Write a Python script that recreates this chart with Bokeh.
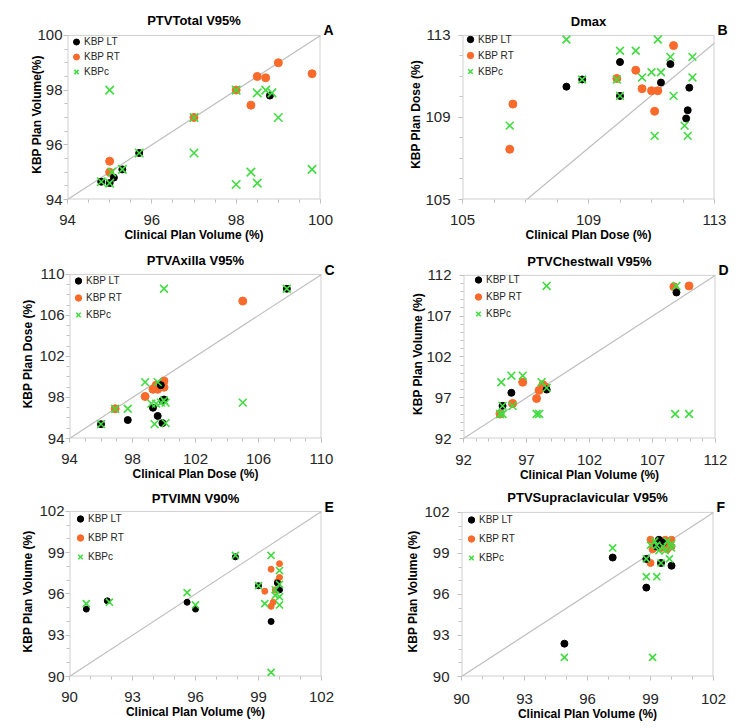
from bokeh.plotting import figure
from bokeh.models import Range1d, FixedTicker, Legend, LegendItem, LinearAxis
from bokeh.layouts import column, row
from bokeh.embed import file_html
from bokeh.resources import INLINE

# ---------------- data ----------------
# Panel A: PTVTotal V95%
A_lt_x = [94.8, 95.0, 95.1, 95.3, 95.7, 98.8]
A_lt_y = [94.65, 94.6, 94.8, 95.1, 95.7, 97.8]
A_rt_x = [95.0, 95.0, 97.0, 98.0, 98.35, 98.5, 98.7, 99.0, 99.8]
A_rt_y = [95.4, 95.0, 97.0, 98.0, 97.45, 98.5, 98.45, 99.0, 98.6]
A_c_x = [95.0, 94.8, 95.0, 95.05, 95.3, 95.7, 97.0, 97.0, 98.0, 98.0, 98.35, 98.5, 98.5, 98.7, 98.85, 99.0, 99.8]
A_c_y = [98.0, 94.65, 94.6, 95.0, 95.1, 95.7, 97.0, 95.7, 98.0, 94.55, 95.0, 94.6, 97.9, 98.0, 97.9, 97.0, 95.1]

# Panel B: Dmax
B_lt_x = [108.3, 108.8, 110.0, 110.0, 111.3, 111.6, 112.1, 112.15, 112.2]
B_lt_y = [110.5, 110.85, 111.7, 110.05, 110.7, 111.6, 108.95, 109.35, 110.45]
B_rt_x = [106.6, 106.5, 109.9, 110.5, 110.7, 111.0, 111.2, 111.1, 111.7]
B_rt_y = [109.65, 107.45, 110.9, 111.3, 110.4, 110.3, 110.3, 109.3, 112.5]
B_c_x = [108.3, 106.5, 108.8, 109.9, 110.0, 110.0, 110.5, 110.7, 111.0, 111.3, 111.2, 111.6, 111.7, 111.1, 112.05, 112.15, 112.3, 112.3]
B_c_y = [112.8, 108.6, 110.85, 110.85, 112.25, 110.05, 112.25, 110.95, 111.2, 111.2, 112.8, 111.95, 110.05, 108.1, 108.6, 108.1, 111.95, 110.95]
B_ref_x = [107.04, 113.0]
B_ref_y = [105.0, 112.63]

# Panel C: PTVAxilla V95%
C_lt_x = [96.0, 97.7, 99.3, 99.6, 99.8, 99.9, 100.0, 99.9, 107.8]
C_lt_y = [95.4, 95.8, 97.0, 96.2, 99.2, 97.7, 97.8, 95.5, 108.6]
C_rt_x = [96.9, 98.8, 99.3, 99.5, 99.6, 99.8, 100.0, 100.0, 105.0]
C_rt_y = [96.9, 98.1, 98.8, 99.2, 98.8, 99.1, 99.6, 99.0, 107.4]
C_c_x = [96.0, 96.9, 97.7, 98.8, 99.6, 99.2, 99.5, 99.8, 100.0, 100.1, 99.4, 100.1, 100.0, 105.0, 107.8]
C_c_y = [95.4, 96.9, 96.9, 99.5, 99.5, 97.4, 97.4, 97.5, 97.7, 97.5, 95.4, 95.5, 108.6, 97.5, 108.6]

# Panel D: PTVChestwall V95%
D_lt_x = [95.1, 95.8, 98.6, 108.9]
D_lt_y = [96.0, 97.6, 98.0, 109.9]
D_rt_x = [94.9, 95.9, 96.7, 97.8, 98.0, 98.3, 98.5, 108.7, 109.9]
D_rt_y = [95.0, 96.3, 98.9, 96.9, 97.9, 98.6, 98.3, 110.6, 110.7]
D_c_x = [95.0, 95.8, 96.7, 94.9, 95.1, 95.1, 95.9, 97.8, 98.0, 98.2, 98.6, 98.6, 108.9, 108.8, 109.9]
D_c_y = [98.9, 99.7, 99.7, 95.0, 95.0, 96.0, 96.0, 95.0, 95.0, 98.9, 98.2, 110.7, 110.7, 95.0, 95.0]

# Panel E: PTVIMN V90%
E_lt_x = [90.8, 91.8, 95.6, 96.0, 97.9, 99.0, 99.6, 99.9, 100.0]
E_lt_y = [94.9, 95.5, 95.4, 94.9, 98.7, 96.6, 94.0, 96.8, 96.3]
E_rt_x = [99.3, 99.6, 99.6, 99.7, 99.8, 99.9, 100.0, 100.0]
E_rt_y = [96.2, 95.1, 97.8, 95.4, 96.3, 96.9, 98.2, 97.2]
E_c_x = [90.8, 91.9, 95.6, 96.0, 97.9, 99.0, 99.6, 99.3, 99.6, 99.8, 100.0, 99.8, 100.0, 100.0, 100.0]
E_c_y = [95.3, 95.4, 96.1, 95.2, 98.8, 96.6, 98.8, 95.3, 90.3, 96.3, 96.7, 95.9, 95.8, 97.7, 95.2]

# Panel F: PTVSupraclavicular V95%
F_lt_x = [94.9, 97.2, 98.8, 98.8, 99.5, 100.0, 99.4, 99.3, 99.6]
F_lt_y = [92.4, 98.7, 96.5, 98.6, 98.3, 98.1, 100.0, 99.5, 99.8]
F_rt_x = [99.0, 99.2, 99.4, 99.5, 99.7, 99.9, 100.0, 100.0, 99.1, 99.0, 99.6, 99.8]
F_rt_y = [100.0, 99.6, 99.9, 99.4, 100.0, 99.7, 100.0, 99.5, 99.3, 98.3, 99.6, 99.3]
F_c_x = [94.9, 97.2, 99.1, 98.8, 99.3, 98.8, 99.5, 99.9, 99.0, 99.2, 99.4, 99.6, 99.8, 100.0, 100.0, 99.3, 99.7]
F_c_y = [91.4, 99.4, 91.4, 97.3, 97.3, 98.6, 98.3, 98.6, 99.6, 99.9, 99.2, 99.5, 99.9, 99.7, 99.4, 99.6, 99.2]

# axis ticks
A_ticks = [94, 96, 98, 100]
B_ticks = [105, 109, 113]
C_ticks = [94, 98, 102, 106, 110]
D_ticks = [92, 97, 102, 107, 112]
E_ticks = [90, 93, 96, 99, 102]
F_ticks = [90, 93, 96, 99, 102]

FONT = "Liberation Sans"
ORANGE = "#fa6a2a"
GREEN = "#40dc40"
TXT = "#262626"
BOX = "#d0d0d0"


def make_panel(title, letter, xlabel, ylabel, ticks, minor_step,
               lt, rt, kc, ref, h, borders, ext, leg, sizes, ylab_side, xstand, tstand):
    left, right, top, bottom = borders
    lo, hi = ticks[0], ticks[-1]
    vis_h = h - top - bottom
    # the frame reaches `ext` px above the drawn box, leaving room for the panel letter
    y_hi = hi + (hi - lo) * ext / vis_h
    p = figure(width=375, height=h, x_range=Range1d(lo, hi), y_range=Range1d(lo, y_hi),
               output_backend="svg", toolbar_location=None,
               min_border_left=left, min_border_right=right,
               min_border_top=top - ext, min_border_bottom=bottom)
    p.xgrid.visible = False
    p.ygrid.visible = False
    p.outline_line_color = None
    p.background_fill_color = "white"
    p.border_fill_color = "white"

    p.title.text = title
    p.title.align = "center"
    p.title.offset = 7
    p.title.standoff = tstand
    p.title.text_font = FONT
    p.title.text_font_size = "13px"
    p.title.text_font_style = "bold"
    p.title.text_color = "#000000"

    n = int(round((hi - lo) / minor_step))
    minors = [lo + i * minor_step for i in range(n + 1)]
    for ax in (p.xaxis[0], p.yaxis[0]):
        ax.ticker = FixedTicker(ticks=ticks, minor_ticks=minors)
        ax.axis_line_color = None
        ax.major_tick_line_color = "#bfbfbf"
        ax.minor_tick_line_color = "#bfbfbf"
        ax.major_tick_in = 0
        ax.minor_tick_in = 0
        ax.major_tick_out = 4
        ax.minor_tick_out = 3
        ax.major_label_text_font = FONT
        ax.major_label_text_font_size = "15px"
        ax.major_label_text_color = TXT
        ax.axis_label_text_font = FONT
        ax.axis_label_text_font_size = "12px"
        ax.axis_label_text_font_style = "bold"
        ax.axis_label_text_color = "#000000"
    p.xaxis.axis_label = xlabel
    p.yaxis.axis_label = ylabel
    p.xaxis.major_label_standoff = xstand
    p.xaxis.axis_label_standoff = 0
    p.yaxis.major_label_standoff = ylab_side[0]
    p.yaxis.axis_label_standoff = ylab_side[1]

    # panel letter: label of a tick-less right axis at the top of the frame
    p.extra_y_ranges = {"letter": Range1d(0, 1)}
    lax = LinearAxis(y_range_name="letter", ticker=FixedTicker(ticks=[1]),
                     major_label_overrides={1: letter})
    lax.axis_line_color = None
    lax.major_tick_line_color = None
    lax.minor_tick_line_color = None
    lax.major_tick_out = 0
    lax.major_tick_in = 0
    lax.major_label_standoff = 3
    lax.major_label_text_font = FONT
    lax.major_label_text_font_size = "14px"
    lax.major_label_text_font_style = "bold"
    lax.major_label_text_color = "#000000"
    p.add_layout(lax, "right")

    # plot-area box
    p.multi_line(xs=[[lo, lo], [lo, hi], [hi, hi]], ys=[[lo, hi], [lo, lo], [lo, hi]],
                 line_color=BOX, line_width=2)
    p.line([lo, hi], [hi, hi], line_color=BOX, line_width=1)

    # reference line
    p.line(ref[0], ref[1], line_color="#bfbfbf", line_width=1.2)

    s_lt, s_rt, s_c = sizes
    r_rt = p.scatter(rt[0], rt[1], marker="circle", size=s_rt,
                     fill_color=ORANGE, line_color=ORANGE)
    r_lt = p.scatter(lt[0], lt[1], marker="circle", size=s_lt,
                     fill_color="black", line_color="black")
    r_c = p.scatter(kc[0], kc[1], marker="x", size=s_c,
                    line_color=GREEN, line_width=1.6)

    vx, vy, pitch = leg
    legend = Legend(items=[LegendItem(label="KBP LT", renderers=[r_lt]),
                           LegendItem(label="KBP RT", renderers=[r_rt]),
                           LegendItem(label="KBPc", renderers=[r_c])],
                    location=(vx, vy), padding=0, spacing=0, margin=0,
                    glyph_width=16, glyph_height=pitch, label_height=pitch,
                    label_standoff=0, label_text_font=FONT,
                    label_text_font_size="10px", label_text_color=TXT,
                    border_line_color=None, background_fill_alpha=0)
    p.add_layout(legend)
    return p


pA = make_panel("PTVTotal V95%", "A", "Clinical Plan Volume (%)", "KBP Plan Volume(%)",
                A_ticks, 0.5, (A_lt_x, A_lt_y), (A_rt_x, A_rt_y), (A_c_x, A_c_y),
                ([A_ticks[0], A_ticks[-1]], [A_ticks[0], A_ticks[-1]]),
                245, (67, 55, 33, 46), 6, (1, 120, 15), (7, 8, 12), (1, -10), 11, 3)
pB = make_panel("Dmax", "B", "Clinical Plan Dose (%)", "KBP Plan Dose (%)",
                B_ticks, 1, (B_lt_x, B_lt_y), (B_rt_x, B_rt_y), (B_c_x, B_c_y),
                (B_ref_x, B_ref_y),
                245, (87, 36, 35, 42), 6, (0, 120, 16), (7, 8, 11), (8, -1), 11, 2)
pC = make_panel("PTVAxilla V95%", "C", "Clinical Plan Dose (%)", "KBP Plan Dose (%)",
                C_ticks, 1, (C_lt_x, C_lt_y), (C_rt_x, C_rt_y), (C_c_x, C_c_y),
                ([C_ticks[0], C_ticks[-1]], [C_ticks[0], C_ticks[-1]]),
                240, (69, 54, 26, 47), 5, (1, 115, 17), (7, 8, 11), (1, 1), 11, 3)
pD = make_panel("PTVChestwall V95%", "D", "Clinical Plan Volume (%)", "KBP Plan Volume (%)",
                D_ticks, 1, (D_lt_x, D_lt_y), (D_rt_x, D_rt_y), (D_c_x, D_c_y),
                ([D_ticks[0], D_ticks[-1]], [D_ticks[0], D_ticks[-1]]),
                240, (88, 35, 30, 42), 6, (7, 116, 17), (7, 8, 11), (8, -2), 12, 2)
pE = make_panel("PTVIMN V90%", "E", "Clinical Plan Volume (%)", "KBP Plan Volume (%)",
                E_ticks, 1, (E_lt_x, E_lt_y), (E_rt_x, E_rt_y), (E_c_x, E_c_y),
                ([E_ticks[0], E_ticks[-1]], [E_ticks[0], E_ticks[-1]]),
                243, (69, 54, 24, 52), 5, (3, 110, 19), (6, 6, 10), (1, 1), 11, 1)
pF = make_panel("PTVSupraclavicular V95%", "F", "Clinical Plan Volume (%)", "KBP Plan Volume (%)",
                F_ticks, 1, (F_lt_x, F_lt_y), (F_rt_x, F_rt_y), (F_c_x, F_c_y),
                ([F_ticks[0], F_ticks[-1]], [F_ticks[0], F_ticks[-1]]),
                243, (86, 37, 27, 49), 6, (2, 109, 19), (7, 7, 10), (8, 1), 13, 3)

layout = column(row(pA, pB), row(pC, pD), row(pE, pF))

open("out.html", "w").write(file_html(layout, INLINE))
